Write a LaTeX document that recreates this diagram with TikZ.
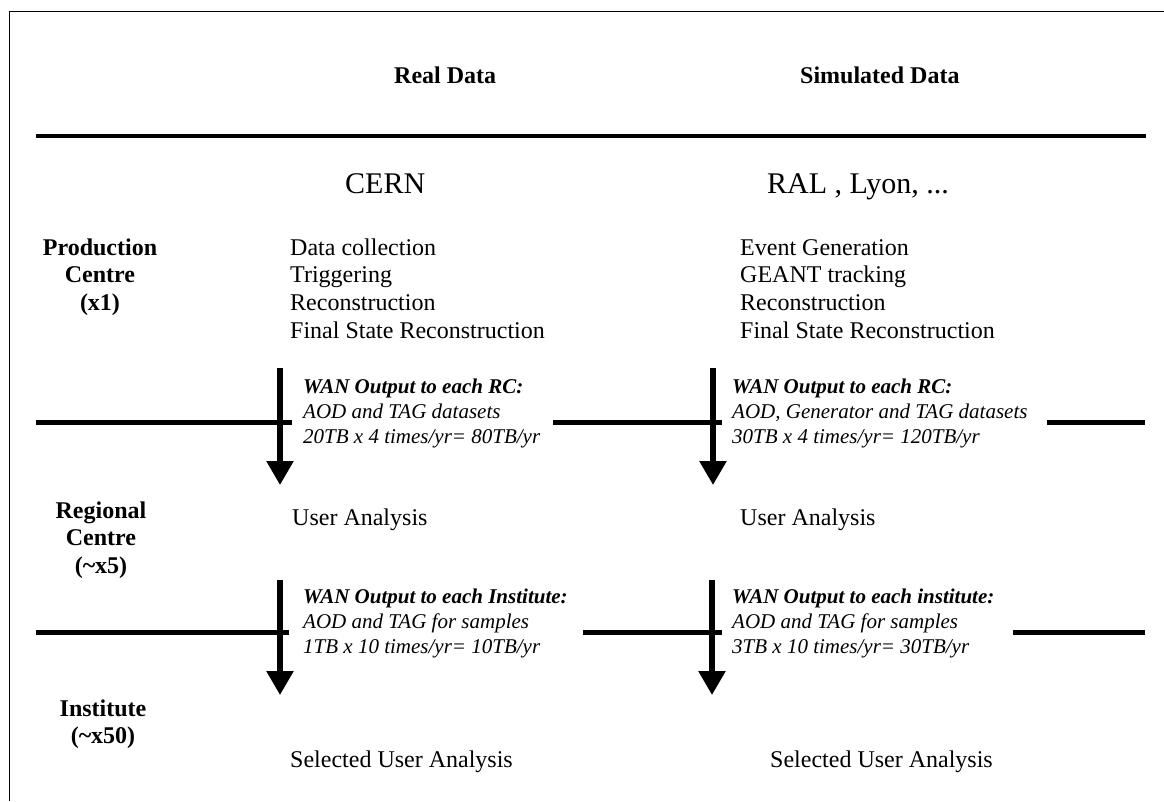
\documentclass[tikz,border=0pt]{standalone}
\usepackage{fontspec}
\setmainfont{Liberation Serif}
\usetikzlibrary{arrows.meta}
\begin{document}
\begin{tikzpicture}[x=1pt,y=-1pt,
  frameline/.style={line width=1pt},
  thickrule/.style={line width=4pt},
  tierline/.style={line width=5pt},
  flow/.style={line width=5.5pt,-{Triangle[width=26pt,length=24pt]}},
  header/.style={font=\fontsize{24}{28}\selectfont\bfseries,inner sep=0pt,anchor=base west},
  tier/.style={font=\fontsize{24}{27.7}\selectfont\bfseries,align=center,inner sep=0pt,anchor=base},
  site/.style={font=\fontsize{30}{36}\selectfont,inner sep=0pt,anchor=base west},
  body/.style={font=\fontsize{24}{27.7}\selectfont,align=left,inner sep=0pt,anchor=base west},
  wan/.style={font=\fontsize{21}{25}\selectfont\itshape,align=left,inner sep=0pt,anchor=base west}]
\useasboundingbox (0,0) rectangle (1164,801);
% frame (left and top edges)
\draw[frameline] (9.5,801) -- (9.5,11.5) -- (1164,11.5);
% headers
\node[header] (real) at (394,83) {Real Data};
\node[header] (sim) at (800,83) {Simulated Data};
\draw[thickrule] (36,136) -- (1146,136);
% sites
\node[site] (cern) at (345,193) {CERN};
\node[site] (ral) at (767,193) {RAL , Lyon, ...};
% tier labels (anchor = baseline of last line)
\node[tier] (prod) at (100,310.4) {Production\\Centre\\(x1)};
\node[tier] (reg) at (101,573.4) {Regional\\Centre\\(\char`\~x5)};
\node[tier] (inst) at (103,743.7) {Institute\\(\char`\~x50)};
% production tasks
\node[body] (realtasks) at (290,338.1) {Data collection\\Triggering\\Reconstruction\\Final State Reconstruction};
\node[body] (simtasks) at (740,338.1) {Event Generation\\GEANT tracking\\Reconstruction\\Final State Reconstruction};
% WAN to RC
\coordinate (a1s) at (280,368); \coordinate (a1e) at (280,485);
\coordinate (a2s) at (713,368); \coordinate (a2e) at (713,485);
\draw[tierline] (36,422) -- (292,422);
\draw[tierline] (553,422) -- (722,422);
\draw[tierline] (1047,422) -- (1145,422);
\draw[flow] (a1s) -- (a1e);
\draw[flow] (a2s) -- (a2e);
\node[wan] (wan1) at (303,443) {\textbf{WAN Output to each RC:}\\AOD and TAG datasets\\20TB x 4 times/yr= 80TB/yr};
\node[wan] (wan2) at (732,443) {\textbf{WAN Output to each RC:}\\AOD, Generator and TAG datasets\\30TB x 4 times/yr= 120TB/yr};
% regional analysis
\node[body] (ua1) at (292,525) {User Analysis};
\node[body] (ua2) at (740,525) {User Analysis};
% WAN to institutes
\coordinate (a3s) at (280,580); \coordinate (a3e) at (280,695);
\coordinate (a4s) at (712,580); \coordinate (a4e) at (712,695);
\draw[tierline] (36,632) -- (289,632);
\draw[tierline] (583,632) -- (722,632);
\draw[tierline] (1013,632) -- (1145,632);
\draw[flow] (a3s) -- (a3e);
\draw[flow] (a4s) -- (a4e);
\node[wan] (wan3) at (303,653) {\textbf{WAN Output to each Institute:}\\AOD and TAG for samples\\1TB x 10 times/yr= 10TB/yr};
\node[wan] (wan4) at (732,653) {\textbf{WAN Output to each institute:}\\AOD and TAG for samples\\3TB x 10 times/yr= 30TB/yr};
% institute analysis
\node[body] (sua1) at (290,767) {Selected User Analysis};
\node[body] (sua2) at (770,767) {Selected User Analysis};
\end{tikzpicture}
\end{document}
